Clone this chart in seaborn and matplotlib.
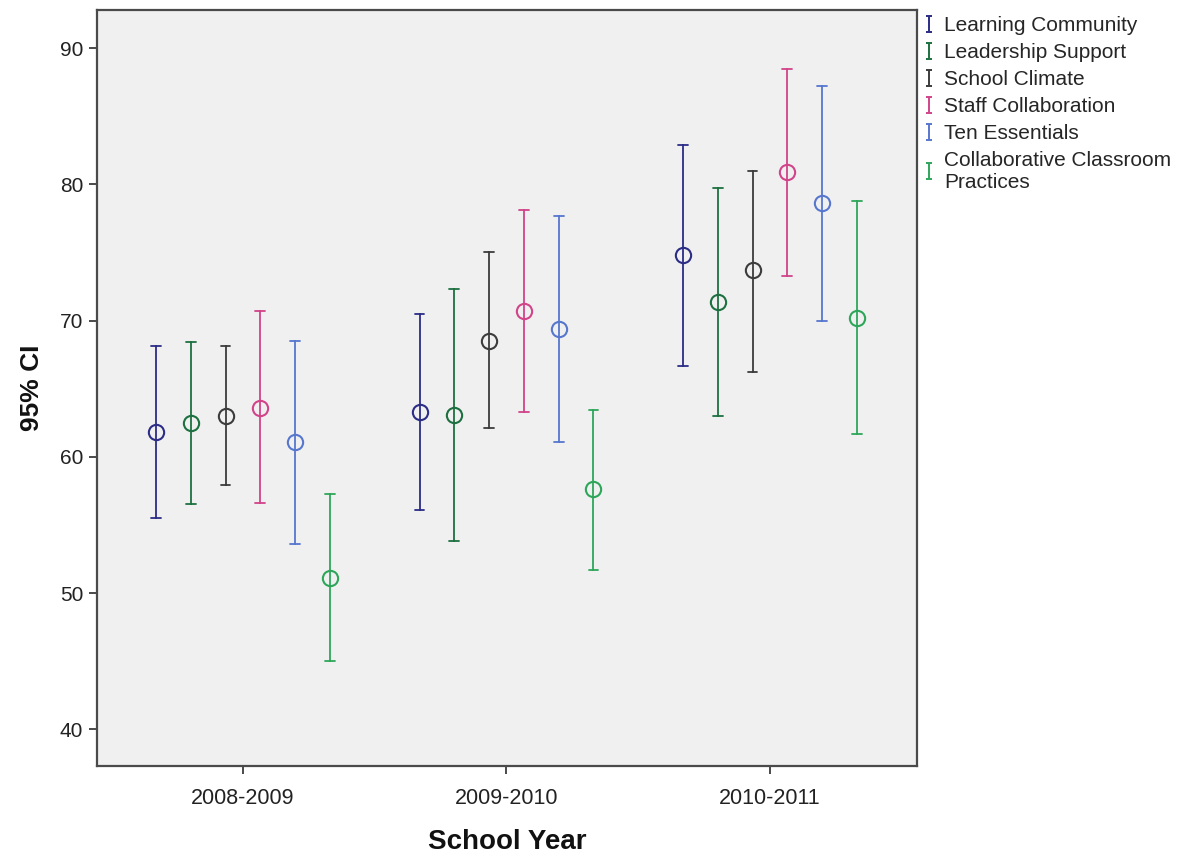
import numpy as np
import pandas as pd
import seaborn as sns
import matplotlib
matplotlib.use("Agg")
import matplotlib.pyplot as plt
from matplotlib.lines import Line2D
from matplotlib.path import Path

# ---- data -------------------------------------------------------------
years = ["2008-2009", "2009-2010", "2010-2011"]
scales = ["Learning Community", "Leadership Support", "School Climate",
          "Staff Collaboration", "Ten Essentials",
          "Collaborative Classroom\nPractices"]

# mean score per scale, one entry per school year
mean_lc = [61.8, 63.3, 74.8]
mean_ls = [62.5, 63.1, 71.4]
mean_sc = [63.0, 68.5, 73.7]
mean_staff = [63.6, 70.7, 80.9]
mean_ten = [61.1, 69.4, 78.6]
mean_ccp = [51.1, 57.6, 70.2]

# 95% confidence interval bounds
lower_lc = [55.5, 56.1, 66.7]
upper_lc = [68.1, 70.5, 82.9]
lower_ls = [56.5, 53.8, 63.0]
upper_ls = [68.4, 72.3, 79.7]
lower_sc = [57.9, 62.1, 66.2]
upper_sc = [68.1, 75.0, 81.0]
lower_staff = [56.6, 63.3, 73.3]
upper_staff = [70.7, 78.1, 88.5]
lower_ten = [53.6, 61.1, 70.0]
upper_ten = [68.5, 77.7, 87.2]
lower_ccp = [45.0, 51.7, 61.7]
upper_ccp = [57.3, 63.4, 78.8]

colors = ["#2b2d86", "#1d7040", "#3c3c3c", "#d2448a", "#5777cf", "#2ea65a"]

means = [mean_lc, mean_ls, mean_sc, mean_staff, mean_ten, mean_ccp]
lowers = [lower_lc, lower_ls, lower_sc, lower_staff, lower_ten, lower_ccp]
uppers = [upper_lc, upper_ls, upper_sc, upper_staff, upper_ten, upper_ccp]

# long table: each year/scale cell holds its lower bound, mean and upper bound,
# so the median gives the point and min/max give the interval
rows = []
for s, m, lo, hi in zip(scales, means, lowers, uppers):
    for i, y in enumerate(years):
        for v in (lo[i], m[i], hi[i]):
            rows.append({"School Year": y, "Scale": s, "value": v})
df = pd.DataFrame(rows)

# ---- figure -----------------------------------------------------------
sns.set_theme(style="white")
plt.rcParams["font.family"] = ["Liberation Sans", "DejaVu Sans"]

fig = plt.figure(figsize=(11.83, 8.59), dpi=100)
ax = fig.add_axes([97 / 1183, 1 - 766 / 859, (917 - 97) / 1183, (766 - 10) / 859])
ax.set_facecolor("#f0f0f0")

sns.pointplot(
    data=df, x="School Year", y="value", hue="Scale",
    order=years, hue_order=scales, palette=colors,
    estimator="median", errorbar=lambda v: (v.min(), v.max()),
    dodge=0.66, linestyle="none", markers="o", markersize=11,
    capsize=0.037, err_kws={"linewidth": 1.3},
    ax=ax, legend=False,
)

for ln in ax.lines:
    if ln.get_marker() == "o":
        ln.set_markerfacecolor("none")
        ln.set_markeredgewidth(1.5)

ax.set_xlim(-0.554, 2.558)
ax.set_ylim(37.3, 92.8)
ax.set_yticks([40, 50, 60, 70, 80, 90])

for sp in ax.spines.values():
    sp.set_color("#4a4a4a")
    sp.set_linewidth(1.6)

ax.tick_params(axis="both", which="both", length=6, width=1.4, color="#4a4a4a",
               labelsize=15, labelcolor="#222222", pad=4,
               left=True, bottom=True)
ax.tick_params(axis="x", pad=10, labelsize=15.5)

ax.set_xlabel("School Year", fontsize=20, fontweight="bold", labelpad=14,
              color="#111111")
ax.set_ylabel("95% CI", fontsize=19, fontweight="bold", labelpad=11,
              color="#111111")

# "I"-shaped legend glyph: a vertical bar with caps
ibar = Path([(-0.4, -1), (0.4, -1), (0, -1), (0, 1), (-0.4, 1), (0.4, 1)],
            [Path.MOVETO, Path.LINETO, Path.MOVETO, Path.LINETO,
             Path.MOVETO, Path.LINETO])
handles = [Line2D([], [], marker=ibar, linestyle="none", color=c,
                  markerfacecolor="none", markersize=12, markeredgewidth=1.4)
           for c in colors]
fig.legend(handles, scales, loc="upper left",
           bbox_to_anchor=(916 / 1183, 1 - 12 / 859), frameon=False,
           fontsize=15, handlelength=0.8, handletextpad=0.35,
           labelspacing=0.38, borderaxespad=0, borderpad=0.2)

fig.savefig("out.png", dpi=100, facecolor="white")
